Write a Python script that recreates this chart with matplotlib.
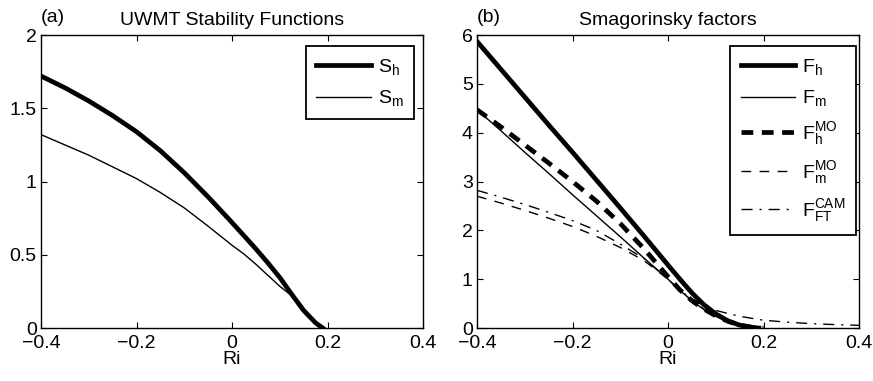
import matplotlib
matplotlib.use('Agg')
import matplotlib.pyplot as plt
import numpy as np

plt.rcParams['font.family'] = ['Liberation Sans', 'DejaVu Sans']
plt.rcParams['mathtext.fontset'] = 'custom'
plt.rcParams['mathtext.rm'] = 'Liberation Sans'
plt.rcParams['mathtext.it'] = 'Liberation Sans'
plt.rcParams['font.size'] = 14

# (a) Функции устойчивости UWMT
ri_s = [-0.4, -0.35, -0.3, -0.25, -0.2, -0.15, -0.1, -0.05, 0.0,
        0.025, 0.05, 0.075, 0.1, 0.125, 0.15, 0.175, 0.19]
s_h = [1.72, 1.64, 1.55, 1.45, 1.34, 1.21, 1.06, 0.895, 0.72,
       0.63, 0.54, 0.445, 0.345, 0.23, 0.12, 0.035, 0.0]
s_m = [1.32, 1.25, 1.18, 1.10, 1.02, 0.925, 0.82, 0.695, 0.565,
       0.505, 0.435, 0.36, 0.285, 0.22, 0.115, 0.035, 0.0]

# (b) Факторы Смагоринского
ri_f = [-0.4, -0.35, -0.3, -0.25, -0.2, -0.15, -0.1, -0.05, 0.0,
        0.025, 0.05, 0.075, 0.1, 0.125, 0.15, 0.175, 0.19]
f_h = [5.87, 5.30, 4.73, 4.16, 3.60, 3.03, 2.46, 1.88, 1.29,
       1.00, 0.72, 0.48, 0.29, 0.15, 0.06, 0.015, 0.0]
f_m = [4.47, 4.04, 3.60, 3.17, 2.73, 2.30, 1.87, 1.43, 1.00,
       0.77, 0.56, 0.38, 0.24, 0.13, 0.06, 0.015, 0.0]

ri_mo = [-0.4, -0.35, -0.3, -0.25, -0.2, -0.15, -0.1, -0.05, 0.0,
         0.025, 0.05, 0.075, 0.1, 0.125, 0.15, 0.175, 0.2]
f_h_mo = [4.47, 4.12, 3.75, 3.38, 3.00, 2.60, 2.14, 1.62, 1.05,
          0.78, 0.56, 0.39, 0.25, 0.14, 0.06, 0.016, 0.0]
f_m_mo = [2.70, 2.56, 2.41, 2.25, 2.08, 1.88, 1.65, 1.38, 1.00,
          0.77, 0.56, 0.39, 0.25, 0.14, 0.06, 0.016, 0.0]

ri_cam = [-0.4, -0.35, -0.3, -0.25, -0.2, -0.15, -0.1, -0.05, 0.0,
          0.025, 0.05, 0.075, 0.1, 0.15, 0.2, 0.25, 0.3, 0.35, 0.4]
f_cam = [2.82, 2.68, 2.53, 2.37, 2.20, 2.00, 1.72, 1.42, 1.00,
         0.77, 0.60, 0.46, 0.36, 0.24, 0.16, 0.12, 0.09, 0.07, 0.056]

fig = plt.figure(figsize=(8.73, 3.81), dpi=100)
ax1 = fig.add_axes([0.047, 0.139, 0.4376, 0.769])
ax2 = fig.add_axes([0.5464, 0.139, 0.4376, 0.769])

k = 'black'
thick = 3.4
thin = 1.0
ax1.plot(ri_s, s_h, color=k, lw=thick, label=r'S$_\mathrm{h}$')
ax1.plot(ri_s, s_m, color=k, lw=thin, label=r'S$_\mathrm{m}$')
ax1.set_ylim(0, 2)
ax1.set_yticks([0, 0.5, 1, 1.5, 2])
ax1.set_yticklabels(['0', '0.5', '1', '1.5', '2'])
ax1.set_title('UWMT Stability Functions', fontsize=14, pad=7)
ax1.text(0.0, 1.03, '(a)', transform=ax1.transAxes, fontsize=14, ha='left', va='bottom')

ax2.plot(ri_f, f_h, color=k, lw=thick, label=r'F$_\mathrm{h}$')
ax2.plot(ri_f, f_m, color=k, lw=thin, label=r'F$_\mathrm{m}$')
ax2.plot(ri_mo, f_h_mo, color=k, lw=thick, dashes=(2.5, 1.8), label=r'F$_\mathrm{h}^\mathrm{MO}$')
ax2.plot(ri_mo, f_m_mo, color=k, lw=thin, dashes=(7, 6), label=r'F$_\mathrm{m}^\mathrm{MO}$')
ax2.plot(ri_cam, f_cam, color=k, lw=thin, dashes=(8, 5, 1.5, 5), label=r'F$_\mathrm{FT}^\mathrm{CAM}$')
ax2.set_ylim(0, 6)
ax2.set_yticks([0, 1, 2, 3, 4, 5, 6])
ax2.set_title('Smagorinsky factors', fontsize=14, pad=7)
ax2.text(0.0, 1.03, '(b)', transform=ax2.transAxes, fontsize=14, ha='left', va='bottom')

legend_anchor = {ax1: (0.9764, 0.9625), ax2: (0.992, 0.9625)}
for ax in (ax1, ax2):
    ax.set_xlim(-0.4, 0.4)
    ax.set_xticks([-0.4, -0.2, 0, 0.2, 0.4])
    ax.set_xticklabels(['\u22120.4', '\u22120.2', '0', '0.2', '0.4'])
    ax.set_xlabel('Ri', fontsize=14, labelpad=-1)
    ax.tick_params(axis='x', pad=5)
    ax.tick_params(direction='in', top=True, right=True, length=4, width=0.8,
                   labelsize=14)
    ax.tick_params(axis='y', pad=3)
    for sp in ax.spines.values():
        sp.set_linewidth(1.0)
    leg = ax.legend(loc='upper right', bbox_to_anchor=legend_anchor[ax],
                    borderaxespad=0, fontsize=14, handlelength=2.8,
                    labelspacing=0.6, handletextpad=0.35,
                    fancybox=False, framealpha=1, edgecolor='black',
                    borderpad=0.55)
    leg.get_frame().set_linewidth(1.3)

fig.savefig('out.png', dpi=100)
